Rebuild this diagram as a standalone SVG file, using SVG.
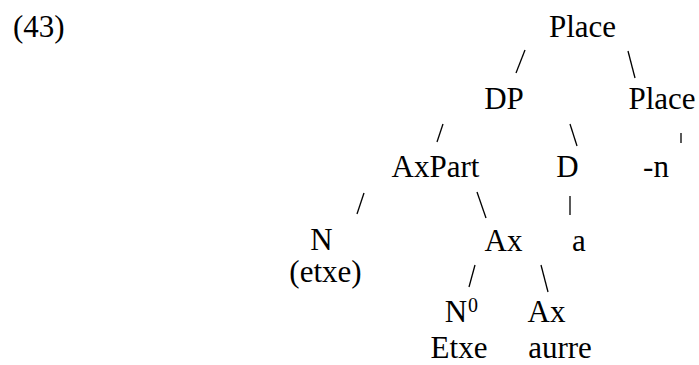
<svg xmlns="http://www.w3.org/2000/svg" width="699" height="365" viewBox="0 0 699 365">
<style>
text{font-size:31px;fill:#000;text-anchor:middle}
.l{text-anchor:start}
.sup{font-size:20px;text-anchor:start}
line{stroke:#000;stroke-width:1.3;stroke-linecap:butt}
</style>
<rect width="699" height="365" fill="#fff"/>
<g font-family="Liberation Serif, Times New Roman, serif">
<text class="l" x="13" y="37">(43)</text>
<g id="connectors">
<line x1="525" y1="50" x2="516" y2="73"/>
<line x1="628" y1="51" x2="635" y2="78"/>
<line x1="443" y1="124" x2="437" y2="142"/>
<line x1="570" y1="124" x2="577" y2="146"/>
<line x1="681" y1="133" x2="681" y2="143"/>
<line x1="364" y1="193" x2="357" y2="214"/>
<line x1="477" y1="192" x2="486" y2="218"/>
<line x1="570" y1="196" x2="570" y2="215"/>
<line x1="475" y1="265" x2="469" y2="287"/>
<line x1="541" y1="265" x2="548" y2="292"/>
</g>
<g id="place-top"><text x="582.5" y="37">Place</text></g>
<g id="dp"><text x="504" y="109">DP</text></g>
<g id="place-right"><text x="662" y="109">Place</text></g>
<g id="axpart"><text x="435.5" y="177">AxPart</text></g>
<g id="d"><text x="567.5" y="177">D</text></g>
<g id="n-suffix"><text x="656" y="177">-n</text></g>
<g id="n"><text x="321.5" y="250">N</text><text x="325.5" y="282">(etxe)</text></g>
<g id="ax"><text x="503.5" y="251">Ax</text></g>
<g id="a"><text x="579" y="251">a</text></g>
<g id="n0"><text x="456" y="322">N</text><text class="sup" x="468" y="312">0</text><text x="459" y="358">Etxe</text></g>
<g id="ax2"><text x="546.5" y="322">Ax</text><text x="560" y="358">aurre</text></g>
</g>
</svg>
